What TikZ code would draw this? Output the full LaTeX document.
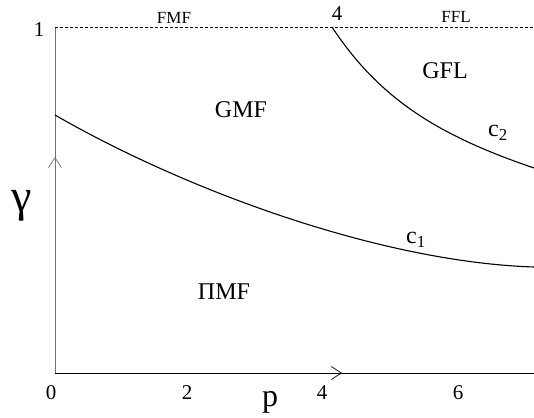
\documentclass[tikz,border=0pt]{standalone}
\usepackage{fontspec}
\setmainfont{Liberation Serif}
\usetikzlibrary{arrows.meta}
\begin{document}
\begin{tikzpicture}[x=1pt,y=-1pt,
  axis/.style={line width=0.8pt},
  curve/.style={line width=1.1pt},
  region/.style={font=\fontsize{24}{24}\selectfont,inner sep=0pt},
  small/.style={font=\fontsize{17}{17}\selectfont,inner sep=0pt},
  tick/.style={font=\fontsize{21}{21}\selectfont,inner sep=0pt},
  barb/.style={-{Straight Barb[length=10pt,width=13pt,line width=0.7pt]}}]
\useasboundingbox (0,0) rectangle (534,417);
\coordinate (O) at (55,373);
\coordinate (T) at (55,27);
\coordinate (TR) at (534,27);
\coordinate (XR) at (534,373);
\coordinate (XA) at (342,373);
\coordinate (YA) at (55,157);
\draw[axis] (O) -- (XR);
\draw[axis,barb] (O) -- (XA);
\draw[axis,black!55] (O) -- (T);
\draw[axis,black!55,barb] (O) -- (YA);
\draw[dashed,line width=0.7pt,dash pattern=on 3pt off 2pt] (T) -- (TR);
% curves
\coordinate (c1s) at (55,115);
\coordinate (c1e) at (534,267);
\draw[curve] (c1s) .. controls (185,190) and (380,262) .. (c1e);
\coordinate (c2s) at (332,27);
\coordinate (c2e) at (534,168);
\draw[curve] (c2s) .. controls (380,100) and (440,136) .. (c2e);
% labels
\node[tick] (one) at (39,30) {1};
\node[small] (fmf) at (174,18) {FMF};
\node[tick] (four) at (337,14) {4};
\node[small] (ffl) at (456,17) {FFL};
\node[region] (gfl) at (445,71) {GFL};
\node[region] (gmf) at (241,110) {GMF};
\node[region] (c2) at (498,133) {c\textsubscript{2}};
\node[region] (c1) at (416,240) {c\textsubscript{1}};
\node[region] (pmf) at (224,292) {ΠMF};
\node[inner sep=0pt,font=\fontsize{46}{46}\selectfont] (gam) at (22,206) {γ};
\node[inner sep=0pt,font=\fontsize{32}{32}\selectfont] (p) at (270,402) {p};
\node[tick] (t0) at (51,393) {0};
\node[tick] (t2) at (187,393) {2};
\node[tick] (t4) at (322,393) {4};
\node[tick] (t6) at (458,393) {6};
\end{tikzpicture}
\end{document}
